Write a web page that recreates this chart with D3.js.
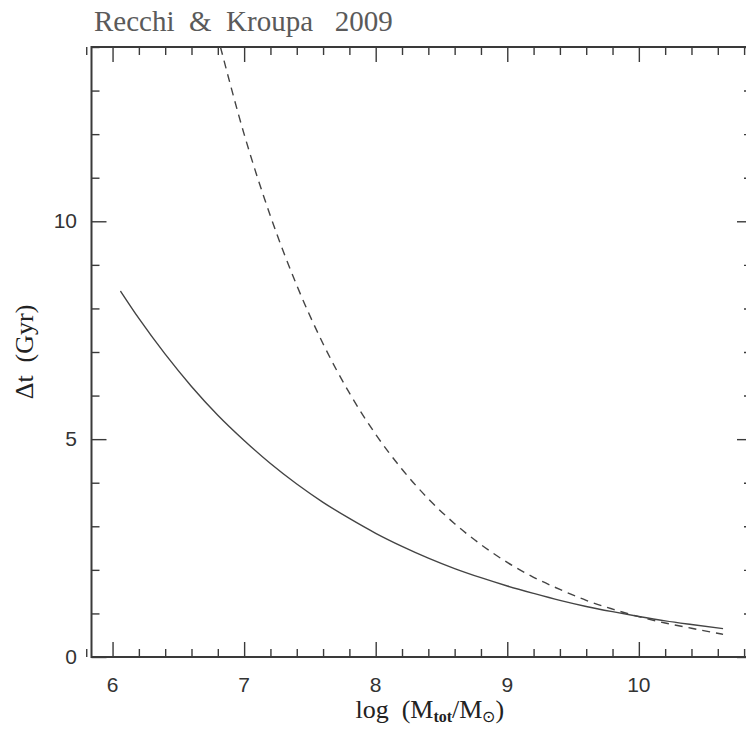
<!DOCTYPE html>
<html lang="en">
  <head>
    <meta charset="utf-8">
    <title>Delta t vs log M</title>
    <style>
      body { margin: 0; background: #fff; }
      svg { display: block; }
    </style>
  </head>
  <body>
    <div class="graph"></div>

    <script src="https://d3js.org/d3.v7.min.js"></script>
    <script>
      // values
      var solidX = [6.06, 6.2, 6.4, 6.6, 6.8, 7.0, 7.2, 7.4, 7.6, 7.8, 8.0, 8.2, 8.4, 8.6, 8.8, 9.0, 9.2, 9.4, 9.6, 9.8, 10.0, 10.2, 10.4, 10.64];
      var solidY = [8.40, 7.77, 6.95, 6.21, 5.55, 4.97, 4.44, 3.97, 3.55, 3.18, 2.84, 2.54, 2.27, 2.03, 1.82, 1.63, 1.46, 1.30, 1.16, 1.04, 0.93, 0.83, 0.745, 0.65];

      var dashedX = [6.82, 7.0, 7.2, 7.4, 7.6, 7.8, 8.0, 8.2, 8.4, 8.6, 8.8, 9.0, 9.2, 9.4, 9.6, 9.8, 10.0, 10.2, 10.4, 10.64];
      var dashedY = [14.0, 12.0, 10.12, 8.53, 7.19, 6.06, 5.11, 4.31, 3.63, 3.06, 2.58, 2.17, 1.83, 1.55, 1.30, 1.10, 0.925, 0.78, 0.66, 0.52];

      var xTicks = [6, 7, 8, 9, 10];
      var yTicks = [0, 5, 10];

      var width = 746, height = 729;
      var padL = 91.5, padR = 752, padT = 47, padB = 657;

      var x = d3.scaleLinear().domain([5.84, 10.86]).range([padL, padR]);
      var y = d3.scaleLinear().domain([0, 14]).range([padB, padT]);

      var svg = d3.select('.graph')
                  .append('svg')
                  .attr('width', width)
                  .attr('height', height);

      var ink = '#3a3a3a';

      // minor ticks
      var xMinor = d3.range(58, 109, 2).map(function(d) { return d / 10; })
                     .filter(function(d) { return Math.abs(d - Math.round(d)) > 0.01; });
      var yMinor = d3.range(0, 15).filter(function(d) { return d % 5 !== 0; });

      function ticks(gen, tx, ty, size) {
        var g = svg.append('g').attr('transform', 'translate(' + tx + ',' + ty + ')');
        g.call(gen.tickSize(size).tickSizeOuter(0).tickFormat(function() { return ''; }));
        g.selectAll('.domain').remove();
        g.selectAll('text').remove();
        g.selectAll('line').attr('stroke', ink).attr('stroke-width', 1.4);
        return g;
      }

      // bottom / top
      ticks(d3.axisTop(x).tickValues(xTicks), 0, padB, 15);
      ticks(d3.axisTop(x).tickValues(xMinor), 0, padB, 8);
      ticks(d3.axisBottom(x).tickValues(xTicks), 0, padT, 15);
      ticks(d3.axisBottom(x).tickValues(xMinor), 0, padT, 8);
      // left / right
      ticks(d3.axisRight(y).tickValues(yTicks), padL, 0, 15);
      ticks(d3.axisRight(y).tickValues(yMinor), padL, 0, 8);
      ticks(d3.axisLeft(y).tickValues(yTicks), padR, 0, 15);
      ticks(d3.axisLeft(y).tickValues(yMinor), padR, 0, 8);

      // frame
      svg.append('rect')
         .attr('x', padL).attr('y', padT)
         .attr('width', padR - padL).attr('height', padB - padT)
         .attr('fill', 'none')
         .attr('stroke', ink)
         .attr('stroke-width', 2);

      // tick labels
      svg.append('g').selectAll('text')
         .data(xTicks).enter().append('text')
         .attr('x', function(d) { return x(d); })
         .attr('y', 692)
         .attr('text-anchor', 'middle')
         .attr('font-family', 'Liberation Sans, Arial, sans-serif')
         .attr('font-size', 21)
         .attr('fill', '#333')
         .text(function(d) { return d; });

      svg.append('g').selectAll('text')
         .data(yTicks).enter().append('text')
         .attr('x', 77)
         .attr('y', function(d) { return y(d) + 7; })
         .attr('text-anchor', 'end')
         .attr('font-family', 'Liberation Sans, Arial, sans-serif')
         .attr('font-size', 21)
         .attr('fill', '#333')
         .text(function(d) { return d; });

      // axis titles
      var xt = svg.append('text')
                  .attr('x', (padL + padR) / 2 + 8)
                  .attr('y', 718)
                  .attr('text-anchor', 'middle')
                  .attr('font-family', 'Liberation Serif, Times New Roman, serif')
                  .attr('font-size', 26)
                  .attr('fill', '#222')
                  .attr('xml:space', 'preserve');
      xt.append('tspan').text('log  (M');
      xt.append('tspan').attr('font-size', 16).attr('font-weight', 'bold').attr('dy', 4).text('tot');
      xt.append('tspan').attr('dy', -4).text('/M');
      xt.append('tspan').attr('font-size', 16).attr('dy', 4).text('\u2299');
      xt.append('tspan').attr('dy', -4).text(')');

      svg.append('text')
         .attr('transform', 'translate(33,' + ((padT + padB) / 2) + ') rotate(-90)')
         .attr('text-anchor', 'middle')
         .attr('font-family', 'Liberation Serif, Times New Roman, serif')
         .attr('font-size', 26)
         .attr('fill', '#222')
         .attr('xml:space', 'preserve')
         .text('\u0394t  (Gyr)');

      // title
      svg.append('text')
         .attr('x', 94)
         .attr('y', 31)
         .attr('font-family', 'Liberation Serif, Times New Roman, serif')
         .attr('font-size', 29)
         .attr('fill', '#5a5a5a')
         .attr('xml:space', 'preserve')
         .text('Recchi  &  Kroupa   2009');

      // curves
      svg.append('clipPath').attr('id', 'clip')
         .append('rect').attr('x', padL).attr('y', padT)
         .attr('width', padR - padL).attr('height', padB - padT);

      var line = d3.line()
                   .x(function(d) { return x(d[0]); })
                   .y(function(d) { return y(d[1]); })
                   .curve(d3.curveMonotoneX);

      svg.append('path')
         .datum(d3.zip(solidX, solidY))
         .attr('clip-path', 'url(#clip)')
         .attr('d', line)
         .attr('fill', 'none')
         .attr('stroke', '#444')
         .attr('stroke-width', 1.4);

      svg.append('path')
         .datum(d3.zip(dashedX, dashedY))
         .attr('clip-path', 'url(#clip)')
         .attr('d', line)
         .attr('fill', 'none')
         .attr('stroke', '#444')
         .attr('stroke-width', 1.4)
         .attr('stroke-dasharray', '8,6');
    </script>
  </body>
</html>
